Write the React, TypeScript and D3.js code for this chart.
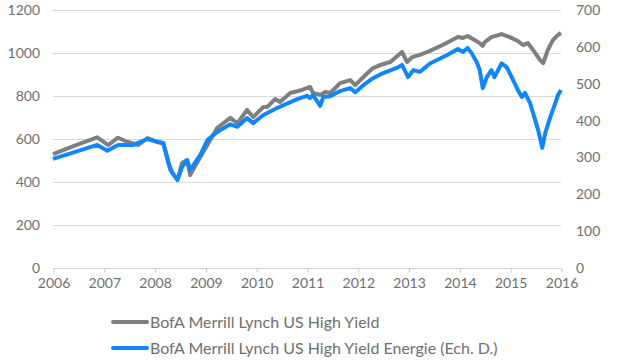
import { useEffect, useRef } from "react";
import * as d3 from "d3";

// BofA Merrill Lynch US High Yield (left axis)
const hyDates = [
  2006.0, 2006.44, 2006.87, 2007.09, 2007.28, 2007.46, 2007.68, 2007.86, 2008.05, 2008.17,
  2008.25, 2008.31, 2008.45, 2008.54, 2008.64, 2008.7, 2008.9, 2009.04, 2009.23, 2009.49,
  2009.63, 2009.82, 2009.94, 2010.14, 2010.22, 2010.37, 2010.47, 2010.67, 2010.9, 2011.06,
  2011.12, 2011.26, 2011.36, 2011.46, 2011.65, 2011.85, 2011.95, 2012.11, 2012.3, 2012.44,
  2012.64, 2012.87, 2012.97, 2013.07, 2013.22, 2013.42, 2013.67, 2013.97, 2014.07, 2014.16,
  2014.3, 2014.4, 2014.46, 2014.5, 2014.63, 2014.83, 2014.99, 2015.15, 2015.25, 2015.35,
  2015.45, 2015.59, 2015.65, 2015.74, 2015.84, 2015.94, 2016.0,
];
const hyValues = [
  530, 570, 608, 572, 606, 587, 572, 604, 587, 580,
  516, 456, 409, 488, 502, 432, 516, 572, 651, 698,
  674, 735, 702, 749, 749, 786, 772, 814, 828, 842,
  814, 805, 819, 814, 860, 874, 851, 888, 930, 944,
  958, 1005, 958, 981, 991, 1010, 1037, 1074, 1070, 1079,
  1060, 1046, 1033, 1051, 1074, 1088, 1074, 1056, 1037, 1046,
  1014, 967, 953, 1014, 1060, 1084, 1093,
];

// BofA Merrill Lynch US High Yield Energie (right axis)
const energyDates = [
  2006.0, 2006.44, 2006.87, 2007.07, 2007.28, 2007.58, 2007.86, 2008.05, 2008.17, 2008.27,
  2008.35, 2008.45, 2008.54, 2008.64, 2008.7, 2008.9, 2009.04, 2009.23, 2009.49, 2009.63,
  2009.82, 2009.94, 2010.14, 2010.41, 2010.81, 2011.0, 2011.06, 2011.12, 2011.26, 2011.32,
  2011.46, 2011.65, 2011.85, 2011.95, 2012.11, 2012.3, 2012.5, 2012.77, 2012.87, 2012.99,
  2013.09, 2013.22, 2013.42, 2013.76, 2013.97, 2014.07, 2014.16, 2014.24, 2014.34, 2014.4,
  2014.46, 2014.54, 2014.63, 2014.69, 2014.83, 2014.93, 2015.05, 2015.15, 2015.23, 2015.29,
  2015.39, 2015.49, 2015.55, 2015.61, 2015.63, 2015.69, 2015.79, 2015.89, 2015.94, 2016.0,
];
const energyValues = [
  296, 315, 334, 318, 334, 334, 350, 342, 339, 285,
  258, 239, 274, 293, 266, 307, 347, 369, 390, 383,
  407, 393, 415, 434, 458, 467, 461, 469, 440, 464,
  466, 480, 488, 477, 496, 515, 529, 543, 551, 518,
  537, 532, 555, 578, 594, 586, 597, 583, 559, 537,
  488, 518, 537, 518, 555, 545, 512, 483, 464, 475,
  448, 402, 374, 339, 326, 366, 410, 448, 469, 483,
];

const years = [2006, 2007, 2008, 2009, 2010, 2011, 2012, 2013, 2014, 2015, 2016];
const leftTicks = [0, 200, 400, 600, 800, 1000, 1200];
const rightTicks = [0, 100, 200, 300, 400, 500, 600, 700];

const seriesNames = [
  "BofA Merrill Lynch US High Yield",
  "BofA Merrill Lynch US High Yield Energie (Ech. D.)",
];
const seriesColors = ["#7f7f7f", "#0f87fa"];

const App = () => {
  const svgRef = useRef<SVGSVGElement>(null);

  useEffect(() => {
    const width = 638;
    const height = 362;
    const margin = { top: 10, right: 77, bottom: 94, left: 53 };
    const innerWidth = width - margin.left - margin.right;
    const innerHeight = height - margin.top - margin.bottom;
    const font = "Lato, 'Open Sans', sans-serif";
    const textColor = "#6f6f6f";

    const svg = d3.select(svgRef.current);
    svg.selectAll("*").remove();

    const g = svg
      .append("g")
      .attr("transform", `translate(${margin.left}, ${margin.top})`);

    const x = d3.scaleLinear().domain([2006, 2016]).range([0, innerWidth]);
    const yLeft = d3.scaleLinear().domain([0, 1200]).range([innerHeight, 0]);
    const yRight = d3.scaleLinear().domain([0, 700]).range([innerHeight, 0]);

    // horizontal grid
    g.selectAll("line.grid")
      .data(leftTicks)
      .join("line")
      .attr("class", "grid")
      .attr("x1", 0)
      .attr("x2", innerWidth)
      .attr("y1", (d) => yLeft(d) + 0.5)
      .attr("y2", (d) => yLeft(d) + 0.5)
      .attr("stroke", (d) => (d === 0 ? "#d0d0d0" : "#d9d9d9"))
      .attr("stroke-width", 1);

    // x axis
    const xAxis = g
      .append("g")
      .attr("transform", `translate(0.5, ${innerHeight + 0.5})`)
      .call(
        d3
          .axisBottom(x)
          .tickValues(years)
          .tickFormat(d3.format("d"))
          .tickSize(4)
          .tickPadding(6)
      );
    xAxis.select(".domain").remove();
    xAxis.selectAll("line").attr("stroke", "#c8c8c8");
    xAxis
      .selectAll("text")
      .attr("fill", textColor)
      .style("font-family", font)
      .style("font-size", "14px");

    // left axis
    const yAxisL = g
      .append("g")
      .call(
        d3
          .axisLeft(yLeft)
          .tickValues(leftTicks)
          .tickFormat(d3.format("d"))
          .tickSize(0)
          .tickPadding(13)
      );
    yAxisL.select(".domain").remove();
    yAxisL
      .selectAll("text")
      .attr("fill", textColor)
      .style("font-family", font)
      .style("font-size", "14px");

    // right axis
    const yAxisR = g
      .append("g")
      .attr("transform", `translate(${innerWidth}, 0)`)
      .call(
        d3
          .axisRight(yRight)
          .tickValues(rightTicks)
          .tickFormat(d3.format("d"))
          .tickSize(0)
          .tickPadding(15)
      );
    yAxisR.select(".domain").remove();
    yAxisR
      .selectAll("text")
      .attr("fill", textColor)
      .style("font-family", font)
      .style("font-size", "14px");

    // lines
    const hyLine = d3
      .line<number>()
      .x((_, i) => x(hyDates[i]))
      .y((d) => yLeft(d));
    const energyLine = d3
      .line<number>()
      .x((_, i) => x(energyDates[i]))
      .y((d) => yRight(d));

    g.append("path")
      .datum(hyValues)
      .attr("fill", "none")
      .attr("stroke", seriesColors[0])
      .attr("stroke-width", 4)
      .attr("stroke-linejoin", "round")
      .attr("d", hyLine);

    g.append("path")
      .datum(energyValues)
      .attr("fill", "none")
      .attr("stroke", seriesColors[1])
      .attr("stroke-width", 4)
      .attr("stroke-linejoin", "round")
      .attr("d", energyLine);

    // legend
    const legend = svg.append("g").attr("transform", "translate(113, 322)");
    const items = legend
      .selectAll("g")
      .data(seriesNames)
      .join("g")
      .attr("transform", (_, i) => `translate(0, ${i * 26})`);
    items
      .append("line")
      .attr("x1", 0)
      .attr("x2", 34)
      .attr("stroke", (_, i) => seriesColors[i])
      .attr("stroke-width", 4)
      .attr("stroke-linecap", "round");
    items
      .append("text")
      .attr("x", 37)
      .attr("dy", "0.35em")
      .attr("fill", textColor)
      .style("font-family", font)
      .style("font-size", "16px")
      .text((d) => d);
  }, []);

  return (
    <div style={{ position: "absolute", left: 0, top: 0 }}>
      <svg ref={svgRef} width={638} height={362} style={{ display: "block" }} />
    </div>
  );
};

export default App;
